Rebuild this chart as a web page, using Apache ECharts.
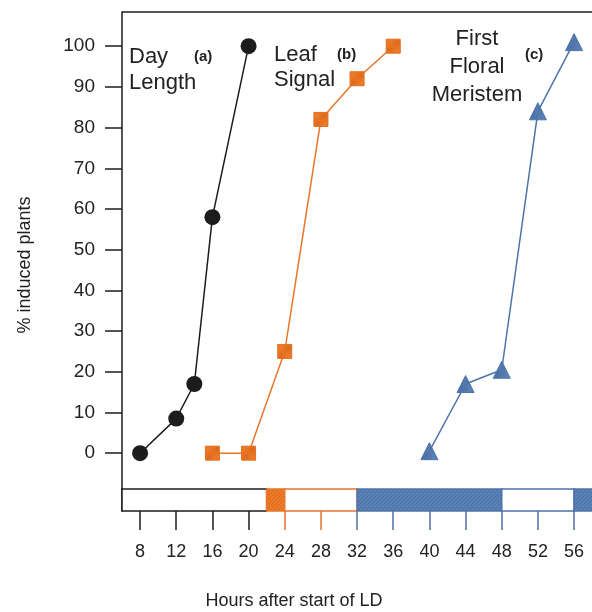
<!DOCTYPE html>
<html><head><meta charset="utf-8">
<script src="https://cdn.jsdelivr.net/npm/echarts@6/dist/echarts.min.js"></script>
<style>html,body{margin:0;padding:0;background:#fff;overflow:hidden}#c{width:592px;height:612px}</style>
</head><body><div id="c"></div>
<script>
// ---- data ----
const dayX = [8, 12, 14, 16, 20];
const dayY = [0, 8.5, 17, 58, 100];
const leafX = [16, 20, 24, 28, 32, 36];
const leafY = [0, 0, 25, 82, 92, 100];
const floralX = [40, 44, 48, 52, 56];
const floralY = [0.5, 17, 20.5, 84, 101];
const yTicks = [0, 10, 20, 30, 40, 50, 60, 70, 80, 90, 100];
const xTicks = [8, 12, 16, 20, 24, 28, 32, 36, 40, 44, 48, 52, 56];
const xTicksBlack = [8, 12, 16, 20];
const xTicksOrange = [24, 28];
const xTicksBlue = [32, 36, 40, 44, 48, 52, 56];
const phaseStart = [6, 22, 24, 32, 48, 56];
const phaseEnd = [22, 24, 32, 48, 56, 59.5];
const phaseKind = ['openBlack', 'orange', 'openOrange', 'blue', 'openBlue', 'blue'];

const X_MIN = 6, X_MAX = 59.2;
const BLACK = '#1c1c1c', ORANGE = '#e8762a', BLUE = '#4d73a8';
const FONT = '"Liberation Sans", Arial, Helvetica, sans-serif';

function hatch(base, line) {
  const c = document.createElement('canvas');
  c.width = 4; c.height = 4;
  const g = c.getContext('2d');
  g.fillStyle = base; g.fillRect(0, 0, 4, 4);
  g.strokeStyle = line; g.lineWidth = 1;
  g.beginPath(); g.moveTo(0, 4); g.lineTo(4, 0); g.stroke();
  return { image: c, repeat: 'repeat' };
}
const blueFill = hatch('#5a81b5', '#4b70a3');
const orangeFill = hatch('#ec7a28', '#dc6a1c');

const pts = (xs, ys) => xs.map((x, i) => [x, ys[i]]);
const phases = phaseStart.map((s, i) => [s, phaseEnd[i], i]);

const styles = {
  openBlack: { fill: '#fff', stroke: BLACK },
  orange: { fill: orangeFill, stroke: ORANGE },
  openOrange: { fill: '#fff', stroke: ORANGE },
  blue: { fill: blueFill, stroke: BLUE },
  openBlue: { fill: '#fff', stroke: BLUE }
};

const chart = echarts.init(document.getElementById('c'), null, { renderer: 'canvas' });

function txt(text, x, y, size, bold, align, extra) {
  return Object.assign({
    type: 'text', x: x, y: y,
    style: { text: text, fontFamily: FONT, fontSize: size, fontWeight: bold ? 'bold' : 'normal',
      fill: '#222', align: align || 'left', verticalAlign: 'middle' }
  }, extra || {});
}

const GRID_W = 481; // extends past the right edge, as the reference is cropped there

chart.setOption({
  animation: false,
  backgroundColor: '#fff',
  grid: [
    { left: 122, top: 12, width: GRID_W, height: 477, outerBoundsMode: 'none', containLabel: false, show: false },
    { left: 122, top: 489, width: GRID_W, height: 22, outerBoundsMode: 'none', containLabel: false, show: false }
  ],
  xAxis: [
    { gridIndex: 0, type: 'value', position: 'bottom', min: X_MIN, max: X_MAX,
      axisLine: { show: false, onZero: false },
      axisTick: { show: false }, axisLabel: { show: false }, splitLine: { show: false } },
    { gridIndex: 1, type: 'value', position: 'bottom', min: X_MIN, max: X_MAX,
      axisLine: { show: false, onZero: false },
      axisTick: { show: true, customValues: xTicksBlack, length: 19, lineStyle: { color: BLACK, width: 1.5 } },
      axisLabel: { show: true, customValues: xTicks, margin: 32, fontSize: 18, fontFamily: FONT, color: '#222' },
      splitLine: { show: false } },
    { gridIndex: 1, type: 'value', position: 'bottom', min: X_MIN, max: X_MAX,
      axisLine: { show: false, onZero: false },
      axisTick: { show: true, customValues: xTicksOrange, length: 19, lineStyle: { color: ORANGE, width: 1.5 } },
      axisLabel: { show: false }, splitLine: { show: false } },
    { gridIndex: 1, type: 'value', position: 'bottom', min: X_MIN, max: X_MAX,
      axisLine: { show: false, onZero: false },
      axisTick: { show: true, customValues: xTicksBlue, length: 19, lineStyle: { color: BLUE, width: 1.5 } },
      axisLabel: { show: false }, splitLine: { show: false } }
  ],
  yAxis: [
    { gridIndex: 0, type: 'value', position: 'left', min: -8.8, max: 108.4,
      axisLine: { show: true, onZero: false, lineStyle: { color: BLACK, width: 1.5 } },
      axisTick: { show: true, customValues: yTicks, length: 17, lineStyle: { color: BLACK, width: 1.5 } },
      axisLabel: { show: true, customValues: yTicks, margin: 27, fontSize: 19, fontFamily: FONT, color: '#222' },
      splitLine: { show: false } },
    { gridIndex: 1, type: 'value', position: 'left', min: 0, max: 1,
      axisLine: { show: true, onZero: false, lineStyle: { color: BLACK, width: 1.5 } },
      axisTick: { show: false }, axisLabel: { show: false }, splitLine: { show: false } }
  ],
  series: [
    { type: 'custom', xAxisIndex: 1, yAxisIndex: 1, data: phases, clip: false,
      renderItem: function (params, api) {
        const a = api.coord([api.value(0), 1]);
        const b = api.coord([api.value(1), 0]);
        const st = styles[phaseKind[api.value(2)]];
        return { type: 'rect', shape: { x: a[0], y: a[1], width: b[0] - a[0], height: b[1] - a[1] },
          style: { fill: st.fill, stroke: st.stroke, lineWidth: 1.5 } };
      } },
    { type: 'line', xAxisIndex: 0, yAxisIndex: 0, data: pts(dayX, dayY),
      symbol: 'circle', symbolSize: 16,
      lineStyle: { color: BLACK, width: 1.5 }, itemStyle: { color: BLACK } },
    { type: 'line', xAxisIndex: 0, yAxisIndex: 0, data: pts(leafX, leafY),
      symbol: 'rect', symbolSize: 14,
      lineStyle: { color: ORANGE, width: 1.5 }, itemStyle: { color: orangeFill, borderColor: '#e0701f', borderWidth: 1 } },
    { type: 'line', xAxisIndex: 0, yAxisIndex: 0, data: pts(floralX, floralY),
      symbol: 'triangle', symbolSize: 17,
      lineStyle: { color: BLUE, width: 1.5 }, itemStyle: { color: blueFill, borderColor: BLUE, borderWidth: 1 } }
  ],
  graphic: [
    { type: 'rect', z: 100, shape: { x: 588.5, y: 13, width: 6, height: 475 }, style: { fill: '#fff' } },
    { type: 'line', z: 101, shape: { x1: 122, y1: 12, x2: 600, y2: 12 }, style: { stroke: BLACK, lineWidth: 1.5 } },
    txt('Day', 129, 57, 22, false),
    txt('Length', 129, 83, 22, false),
    txt('(a)', 194, 57, 15, true),
    txt('Leaf', 274, 55, 22, false),
    txt('Signal', 274, 80, 22, false),
    txt('(b)', 337, 55, 15, true),
    txt('First', 477, 39, 22, false, 'center'),
    txt('Floral', 477, 67, 22, false, 'center'),
    txt('Meristem', 477, 95, 22, false, 'center'),
    txt('(c)', 525, 55, 15, true),
    txt('% induced plants', 25, 265, 18, false, 'center', { rotation: Math.PI / 2 }),
    txt('Hours after start of LD', 294, 601, 18, false, 'center')
  ]
});
</script>
</body></html>
